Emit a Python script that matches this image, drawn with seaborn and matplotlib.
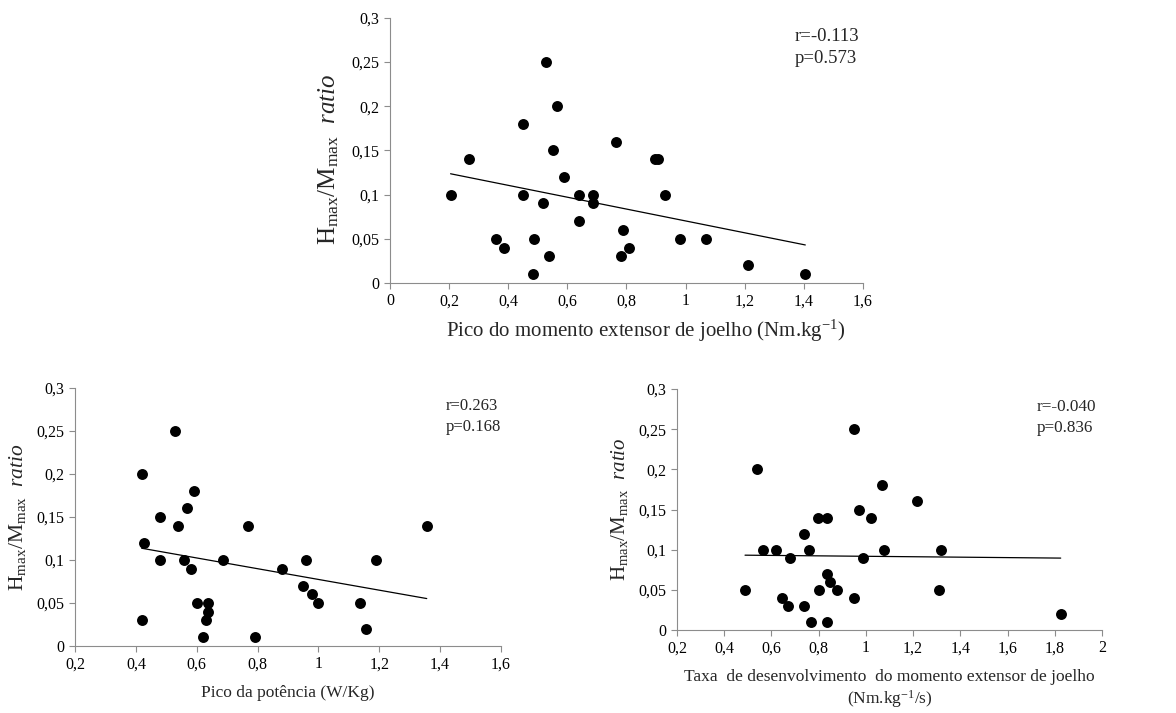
import matplotlib
matplotlib.use("Agg")
import matplotlib.pyplot as plt
import seaborn as sns
import pandas as pd
from matplotlib.ticker import FuncFormatter, MultipleLocator

# Pico do momento extensor de joelho (Nm.kg-1)
momento_x = [0.205, 0.268, 0.36, 0.387, 0.45, 0.45, 0.483, 0.487, 0.518, 0.529,
             0.537, 0.55, 0.565, 0.59, 0.64, 0.64, 0.687, 0.687, 0.766, 0.78,
             0.79, 0.81, 0.897, 0.907, 0.93, 0.98, 1.07, 1.21, 1.405]
momento_y = [0.10, 0.14, 0.05, 0.04, 0.18, 0.10, 0.01, 0.05, 0.09, 0.25,
             0.03, 0.15, 0.20, 0.12, 0.10, 0.07, 0.10, 0.09, 0.16, 0.03,
             0.06, 0.04, 0.14, 0.14, 0.10, 0.05, 0.05, 0.02, 0.01]

# Pico da potencia (W/Kg)
potencia_x = [0.419, 0.419, 0.428, 0.479, 0.479, 0.528, 0.54, 0.559, 0.569, 0.58,
              0.59, 0.60, 0.62, 0.63, 0.638, 0.638, 0.687, 0.768, 0.79, 0.88,
              0.95, 0.96, 0.98, 1.00, 1.136, 1.158, 1.188, 1.356]
potencia_y = [0.20, 0.03, 0.12, 0.15, 0.10, 0.25, 0.14, 0.10, 0.16, 0.09,
              0.18, 0.05, 0.01, 0.03, 0.05, 0.04, 0.10, 0.14, 0.01, 0.09,
              0.07, 0.10, 0.06, 0.05, 0.05, 0.02, 0.10, 0.14]

# Taxa de desenvolvimento do momento extensor de joelho (Nm.kg-1/s)
taxa_x = [0.488, 0.537, 0.564, 0.618, 0.646, 0.669, 0.677, 0.738, 0.738, 0.76,
          0.766, 0.797, 0.80, 0.837, 0.836, 0.837, 0.849, 0.878, 0.949, 0.949,
          0.97, 0.986, 1.02, 1.07, 1.078, 1.215, 1.31, 1.32, 1.825]
taxa_y = [0.05, 0.20, 0.10, 0.10, 0.04, 0.03, 0.09, 0.12, 0.03, 0.10,
          0.01, 0.14, 0.05, 0.14, 0.07, 0.01, 0.06, 0.05, 0.25, 0.04,
          0.15, 0.09, 0.14, 0.18, 0.10, 0.16, 0.05, 0.10, 0.02]

stats_txt = ["r=-0.113\np=0.573", "r=0.263\np=0.168", "r=-0.040\np=0.836"]
xlabels = ["Pico do momento extensor de joelho (Nm.kg$^{\\mathregular{-1}}$)",
           "Pico da potência (W/Kg)",
           "Taxa  de desenvolvimento  do momento extensor de joelho\n(Nm.kg$^{\\mathregular{-1}}$/s)"]
ylabel = "H$_{\\mathregular{max}}$/M$_{\\mathregular{max}}$  $\\it{ratio}$"

sns.set_style("ticks")
plt.rcParams["font.family"] = ["Liberation Serif", "DejaVu Serif"]
plt.rcParams["mathtext.fontset"] = "custom"
plt.rcParams["mathtext.rm"] = "Liberation Serif"
plt.rcParams["mathtext.it"] = "Liberation Serif:italic"

fig = plt.figure(figsize=(11.76, 7.13), dpi=100)
posicoes = [[0.3316, 0.6031, 0.4022, 0.3717],
            [0.0638, 0.0940, 0.3622, 0.3619],
            [0.5757, 0.1164, 0.3614, 0.3380]]
limites_x = [(0, 1.6), (0.2, 1.6), (0.2, 2.0)]
texto_pos = [(0.856, 0.962), (0.871, 0.962), (0.847, 0.958)]
texto_tam = [13.5, 12, 12.3]
xlabel_tam = [15, 12.5, 12.5]
xlabel_pad = [8, 9, 9]
ylabel_tam = [18, 15.5, 15]
dados = [(momento_x, momento_y), (potencia_x, potencia_y), (taxa_x, taxa_y)]

virgula = FuncFormatter(lambda v, p: f"{v:g}".replace(".", ","))

for i, (xs, ys) in enumerate(dados):
    ax = fig.add_axes(posicoes[i])
    df = pd.DataFrame({"x": xs, "y": ys})
    sns.regplot(data=df, x="x", y="y", scatter=False, ci=None, ax=ax,
                line_kws={"color": "black", "lw": 0.9})
    sns.scatterplot(data=df, x="x", y="y", ax=ax, color="black", s=62,
                    edgecolor="black", linewidth=0, zorder=3)
    ax.set_xlim(*limites_x[i])
    ax.set_ylim(0, 0.3)
    ax.xaxis.set_major_locator(MultipleLocator(0.2))
    ax.yaxis.set_major_locator(MultipleLocator(0.05))
    ax.xaxis.set_major_formatter(virgula)
    ax.yaxis.set_major_formatter(virgula)
    for lado in ["top", "right"]:
        ax.spines[lado].set_visible(False)
    for lado in ["left", "bottom"]:
        ax.spines[lado].set_color("#8c8c8c")
        ax.spines[lado].set_linewidth(0.8)
    ax.tick_params(colors="#8c8c8c", labelcolor="black", labelsize=11.5,
                   length=4, width=0.8)
    ax.set_xlabel(xlabels[i], fontsize=xlabel_tam[i], labelpad=xlabel_pad[i])
    ax.set_ylabel(ylabel, fontsize=ylabel_tam[i], labelpad=6)
    ax.text(texto_pos[i][0], texto_pos[i][1], stats_txt[i], transform=ax.transAxes,
            fontsize=texto_tam[i], va="top", ha="left", linespacing=1.4)
    if i == 0:
        # no original os títulos do painel de cima estão um pouco deslocados
        ax.xaxis.set_label_coords(0.541, -0.13)
        ax.yaxis.set_label_coords(-0.104, 0.468)

fig.savefig("out.png", dpi=100)
